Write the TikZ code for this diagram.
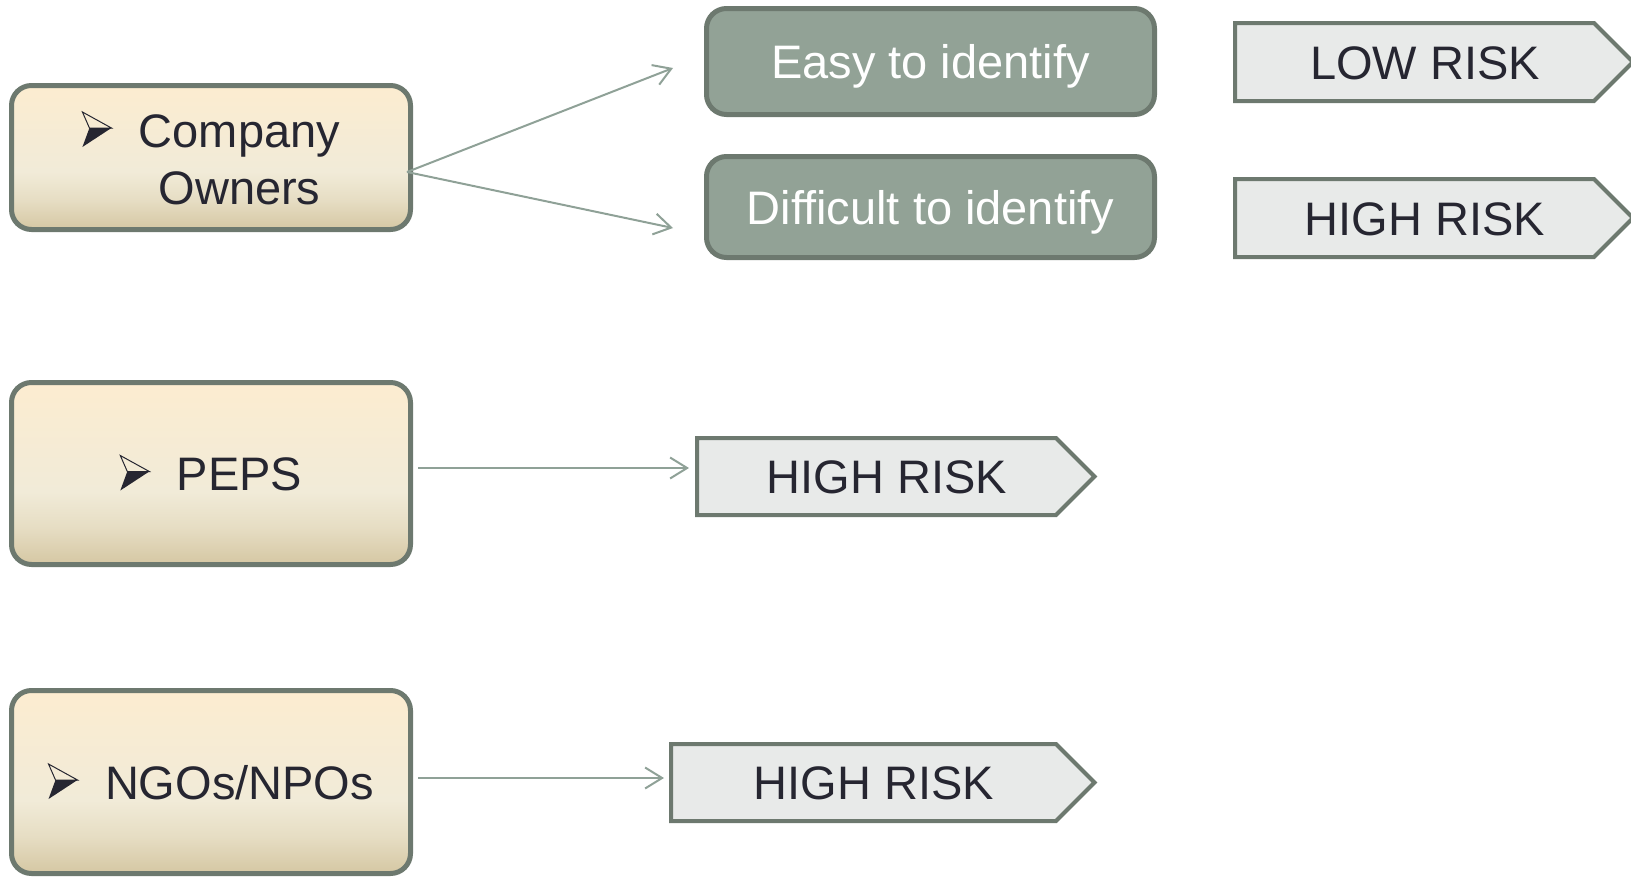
\documentclass[tikz,border=0pt]{standalone}
\usepackage{fontspec}
\setmainfont{Liberation Sans}
\usetikzlibrary{shapes.symbols,arrows.meta,calc}
\definecolor{creamtop}{HTML}{FCECD0}
\definecolor{creammid}{HTML}{F1EBD8}
\definecolor{creamlow}{HTML}{E6DDC3}
\definecolor{creambot}{HTML}{D5C7A3}
\definecolor{boxline}{HTML}{6D796F}
\definecolor{sage}{HTML}{92A296}
\definecolor{riskfill}{HTML}{E8EAE9}
\definecolor{linkline}{HTML}{8FA197}
\definecolor{ink}{HTML}{262631}
\pgfdeclareverticalshading{creamshade}{100bp}{color(0bp)=(creambot); color(25bp)=(creambot);
	color(35bp)=(creamlow); color(45bp)=(creammid); color(75bp)=(creamtop); color(100bp)=(creamtop)}
% bullet arrowhead, light upper facet and dark lower facet
\newcommand{\bul}{\tikz[baseline=0pt, x=1pt, y=1pt, sharp corners, line width=1pt]{
	\draw[ink, line join=miter] (0,35) -- (29,19) -- (7,19) -- cycle;
	\fill[ink] (7,19) -- (29,19) -- (0,0) -- cycle;}}
\newcommand{\bigtext}{\fontsize{47pt}{57pt}\selectfont}
\tikzset{
srcbox/.style={
	draw=boxline, line width=5pt, rounded corners=20pt,
	shade, shading=creamshade, outer sep=0pt,
	minimum width=399pt, text=ink, font=\bigtext,
	text height=34pt, text depth=0pt},
idbox/.style={
	draw=boxline, line width=5pt, rounded corners=20pt, fill=sage, outer sep=0pt,
	minimum width=448pt, text=white, font=\bigtext,
	text height=34pt, text depth=0pt},
riskbox/.style={
	signal, signal to=east, signal pointer angle=90,
	draw=boxline, line width=4pt, fill=riskfill, anchor=west, outer sep=0pt,
	inner xsep=0pt, text=ink, font=\bigtext,
	text height=34pt, text depth=0pt},
link/.style={draw=linkline, line width=2pt,
	-{Straight Barb[length=17pt,width=21pt,line width=2pt]}}
}

\begin{document}
\begin{tikzpicture}[x=1pt, y=-1pt]
	\useasboundingbox (0,0) rectangle (1631,878);
	% left column
	\node[srcbox, minimum height=144pt, text height=40pt, text depth=61pt] (owners) at (211,157.5)
		{\bul\hspace{27pt}\begin{tabular}[t]{@{}c@{}}Company\\Owners\end{tabular}};
	\node[srcbox, minimum height=182pt] (peps) at (211,473.5) {\bul\hspace{27pt}PEPS};
	\node[srcbox, minimum height=183pt] (ngo) at (211,782) {\bul\hspace{27pt}NGOs/NPOs};
	% owners split
	\node[idbox, minimum height=106pt] (easy) at (930.5,61.5) {Easy to identify};
	\node[idbox, minimum height=101pt] (hard) at (930.5,207) {Difficult to identify};
	% risk labels
	\node[riskbox, minimum height=78pt, minimum width=398pt] (lowrisk) at (1235,62) {\hspace*{21pt}LOW RISK};
	\node[riskbox, minimum height=78pt, minimum width=398pt] (hardrisk) at (1235,218) {\hspace*{21pt}HIGH RISK};
	\node[riskbox, minimum height=77pt, minimum width=397.5pt] (pepsrisk) at (697,476.5) {\hspace*{21pt}HIGH RISK};
	\node[riskbox, minimum height=77pt, minimum width=423.5pt] (ngorisk) at (671,782.5) {\hspace*{21pt}HIGH RISK};
	% connectors
	\coordinate (fork) at ($(owners.east)+(-3.5,14.5)$);
	\draw[link] (fork) -- ($(easy.west)+(-33.5,6.5)$);
	\draw[link] (fork) -- ($(hard.west)+(-33.5,21)$);
	\draw[link] ($(peps.east)+(7.5,-5.5)$) -- ($(pepsrisk.west)+(-8,-8.5)$);
	\draw[link] ($(ngo.east)+(7.5,-4)$) -- ($(ngorisk.west)+(-7,-4.5)$);
\end{tikzpicture}
\end{document}
